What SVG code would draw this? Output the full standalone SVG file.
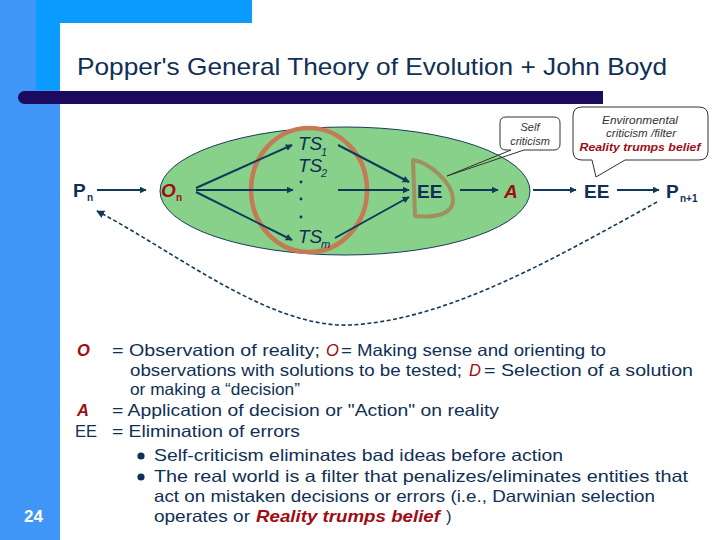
<svg xmlns="http://www.w3.org/2000/svg" width="720" height="540" viewBox="0 0 720 540">
<defs>
<marker id="ah" viewBox="0 0 10 10" refX="9" refY="5" markerWidth="7" markerHeight="7" markerUnits="userSpaceOnUse" orient="auto">
<path d="M0,0 L10,5 L0,10 Z" fill="#0f3a5a"/>
</marker>
<marker id="ahs" viewBox="0 0 10 10" refX="9" refY="5" markerWidth="8" markerHeight="8" markerUnits="userSpaceOnUse" orient="auto-start-reverse">
<path d="M0,0 L10,5 L0,10 Z" fill="#0f3a5a"/>
</marker>
<style>
.t{font-family:"Liberation Sans",Arial,sans-serif;fill:#0f2f55}
.lg{font-size:16.5px}
.r{fill:#a00c14}
.it{font-style:italic}
.b{font-weight:bold}
.con{stroke:#0f3a5a;stroke-width:2;fill:none;marker-end:url(#ah)}
.cap{font-family:"Liberation Sans",Arial,sans-serif;font-style:italic;font-size:11px;fill:#333;text-anchor:middle}
</style>
</defs>
<rect width="720" height="540" fill="#fff"/>
<g id="frame">
<rect x="0" y="0" width="60" height="540" fill="#3f96f7"/>
<rect x="36" y="0" width="216" height="23" fill="#0a9bff"/>
<rect x="36" y="0" width="24" height="90" fill="#0a9bff"/>
<rect x="60" y="23" width="700" height="600" rx="9" fill="#fff"/>
<rect x="18" y="91" width="30" height="13" rx="6.5" fill="#1c0a5e"/>
<rect x="30" y="91" width="573" height="13" fill="#1c0a5e"/>
<text x="77" y="75" class="t" font-size="24" textLength="590" lengthAdjust="spacingAndGlyphs">Popper's General Theory of Evolution + John Boyd</text>
<text x="24" y="522" font-family="Liberation Sans,Arial,sans-serif" font-size="17" font-weight="bold" fill="#fff">24</text>
</g>
<g id="region">
<ellipse cx="345" cy="191" rx="185" ry="64" fill="#88d18a" stroke="#1a3a5a" stroke-width="1"/>
<ellipse cx="309" cy="190" rx="58" ry="62" fill="none" stroke="#c47a55" stroke-width="4.5"/>
<path d="M413,160 C428,162 453,182 453,200 C453,214 436,218 415,216 Z" fill="none" stroke="#a09060" stroke-width="4" stroke-linejoin="round"/>
</g>
<g id="connectors">
<line x1="97" y1="190" x2="146" y2="190" class="con"/>
<line x1="196" y1="188" x2="292" y2="145" class="con"/>
<line x1="196" y1="190" x2="293" y2="190" class="con"/>
<line x1="196" y1="192" x2="292" y2="240" class="con"/>
<line x1="338" y1="145" x2="409" y2="182" class="con"/>
<line x1="338" y1="190" x2="409" y2="190" class="con"/>
<line x1="335" y1="238" x2="409" y2="197" class="con"/>
<line x1="460" y1="190" x2="498" y2="190" class="con"/>
<line x1="533" y1="190" x2="576" y2="190" class="con"/>
<line x1="617" y1="190" x2="659" y2="190" class="con"/>
<path d="M657,202 C560,255 450,320 350,325 C270,328 180,255 97,211" fill="none" stroke="#0f3a5a" stroke-width="1.6" stroke-dasharray="4,2.5" marker-end="url(#ahs)"/>
</g>
<g id="Pn"><text x="73" y="197" class="t b" font-size="19">P</text><text x="87" y="201" class="t b" font-size="10">n</text></g>
<g id="On"><text x="161" y="197" class="t r b it" font-size="19">O</text><text x="176" y="201" class="t r b" font-size="10">n</text></g>
<g id="TS">
<text x="298" y="150" class="t it" font-size="19">TS</text><text x="321" y="156" class="t it" font-size="11">1</text>
<text x="298" y="172" class="t it" font-size="19">TS</text><text x="321" y="177" class="t it" font-size="11">2</text>
<circle cx="301" cy="182" r="1.4" fill="#0f2f55"/>
<circle cx="301" cy="199" r="1.4" fill="#0f2f55"/>
<circle cx="301" cy="217" r="1.4" fill="#0f2f55"/>
<text x="298" y="243" class="t it" font-size="19">TS</text><text x="321" y="248" class="t it" font-size="11">m</text>
</g>
<g id="EE1"><text x="417" y="198" class="t b" font-size="19">EE</text></g>
<g id="A"><text x="504" y="198" class="t r b it" font-size="19">A</text></g>
<g id="EE2"><text x="584" y="198" class="t b" font-size="19">EE</text></g>
<g id="Pn1"><text x="666" y="198" class="t b" font-size="19">P</text><text x="680" y="202" class="t b" font-size="10">n+1</text></g>
<g id="self-callout">
<rect x="500" y="117" width="60" height="33" rx="6" fill="#fff"/>
<path d="M506,117 H554 Q560,117 560,123 V144 Q560,150 554,150 H524 L447,176 L511,150 H506 Q500,150 500,144 V123 Q500,117 506,117 Z" fill="none" stroke="#333" stroke-width="1"/>
<text x="530" y="131" class="cap">Self</text>
<text x="530" y="145" class="cap">criticism</text>
</g>
<g id="env-callout">
<rect x="573" y="107" width="135" height="53" rx="9" fill="#fff"/>
<path d="M582,107 H699 Q708,107 708,116 V151 Q708,160 699,160 H625 L596,177 L592,160 H582 Q573,160 573,151 V116 Q573,107 582,107 Z" fill="none" stroke="#333" stroke-width="1"/>
<text x="640" y="124" class="cap" textLength="76" lengthAdjust="spacingAndGlyphs">Environmental</text>
<text x="641" y="137" class="cap" textLength="70" lengthAdjust="spacingAndGlyphs">criticism /filter</text>
<text x="640" y="151" class="cap" font-weight="bold" style="fill:#a00c14" textLength="121" lengthAdjust="spacingAndGlyphs">Reality trumps belief</text>
</g>
<g id="legend">
<text x="77" y="356" class="t lg r it b">O</text>
<text x="112" y="356" class="t lg" textLength="208" lengthAdjust="spacingAndGlyphs">= Observation of reality;</text>
<text x="326" y="356" class="t lg r it">O</text>
<text x="341" y="356" class="t lg" textLength="265" lengthAdjust="spacingAndGlyphs">= Making sense and orienting to</text>
<text x="130" y="376" class="t lg" textLength="332" lengthAdjust="spacingAndGlyphs">observations with solutions to be tested;</text>
<text x="469" y="376" class="t lg r it">D</text>
<text x="484" y="376" class="t lg" textLength="209" lengthAdjust="spacingAndGlyphs">= Selection of a solution</text>
<text x="130" y="395" class="t lg" textLength="170" lengthAdjust="spacingAndGlyphs">or making a “decision”</text>
<text x="77" y="416" class="t lg r it b">A</text>
<text x="112" y="416" class="t lg" textLength="387" lengthAdjust="spacingAndGlyphs">= Application of decision or "Action" on reality</text>
<text x="75" y="437" class="t lg">EE</text>
<text x="112" y="437" class="t lg" textLength="188" lengthAdjust="spacingAndGlyphs">= Elimination of errors</text>
<circle cx="141" cy="456" r="3.6" fill="#0f2f55"/>
<text x="154" y="461" class="t lg" textLength="409" lengthAdjust="spacingAndGlyphs">Self-criticism eliminates bad ideas before action</text>
<circle cx="141" cy="477" r="3.6" fill="#0f2f55"/>
<text x="154" y="482" class="t lg" textLength="534" lengthAdjust="spacingAndGlyphs">The real world is a filter that penalizes/eliminates entities that</text>
<text x="154" y="502" class="t lg" textLength="501" lengthAdjust="spacingAndGlyphs">act on mistaken decisions or errors (i.e., Darwinian selection</text>
<text x="154" y="522" class="t lg" textLength="96" lengthAdjust="spacingAndGlyphs">operates or</text>
<text x="256" y="522" class="t lg r it b" textLength="184" lengthAdjust="spacingAndGlyphs">Reality trumps belief</text>
<text x="446" y="522" class="t lg">)</text>
</g>
</svg>
